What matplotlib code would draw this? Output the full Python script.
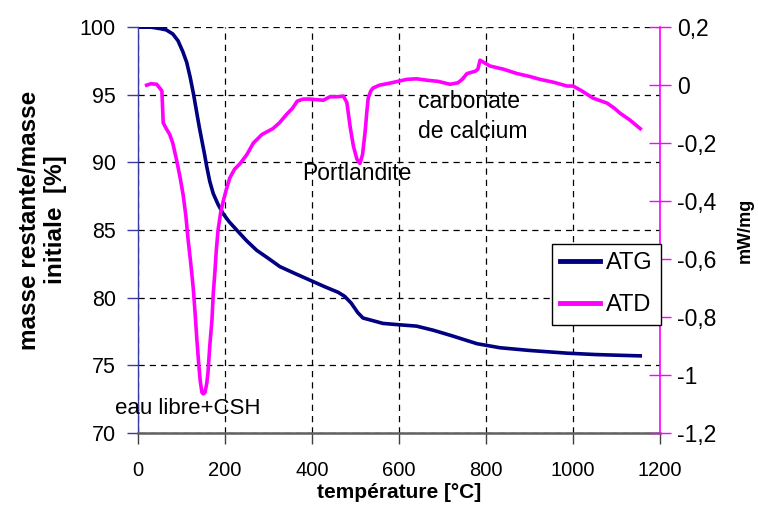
import matplotlib
matplotlib.use("Agg")
import matplotlib.pyplot as plt
from matplotlib.lines import Line2D
from matplotlib.transforms import Bbox, TransformedBbox
from matplotlib.ticker import FuncFormatter

plt.rcParams['font.family'] = ['Liberation Sans', 'DejaVu Sans']

# ATG : masse restante (%)
temp_atg = [0, 30, 50, 65, 80, 92, 103, 112, 120, 128, 135, 141, 147, 153, 158,
            165, 173, 184, 196, 210, 227, 250, 273, 300, 326, 360, 395, 430, 460,
            475, 490, 505, 517, 540, 563, 600, 640, 678, 720, 779, 832, 900, 986,
            1050, 1100, 1154]
atg = [100, 100, 99.9, 99.8, 99.5, 99.0, 98.2, 97.4, 96.3, 95.0, 93.7, 92.6, 91.6,
       90.6, 89.7, 88.6, 87.7, 86.9, 86.2, 85.6, 85.0, 84.2, 83.5, 82.9, 82.3, 81.8,
       81.3, 80.8, 80.4, 80.1, 79.6, 78.9, 78.5, 78.3, 78.1, 78.0, 77.9, 77.6, 77.2,
       76.6, 76.3, 76.1, 75.9, 75.8, 75.75, 75.7]

# ATD : flux de chaleur (mW/mg)
temp_atd = [20, 30, 43, 50, 55, 58, 65, 73, 80, 89, 97, 104, 110, 115, 121, 127,
            131, 135, 139, 143, 147, 150, 154, 158, 161, 165, 170, 173, 177, 180,
            184, 190, 196, 203, 211, 222, 235, 250, 265, 285, 310, 325, 342, 355,
            366, 380, 395, 410, 426, 441, 456, 472, 480, 488, 495, 503, 510, 516,
            522, 526, 529, 535, 540, 555, 579, 600, 618, 640, 664, 690, 717, 735,
            745, 756, 775, 781, 786, 795, 809, 840, 871, 900, 924, 955, 986, 1000,
            1020, 1046, 1078, 1095, 1108, 1130, 1154]
atd = [0.0, 0.005, 0.003, -0.01, -0.02, -0.13, -0.15, -0.17, -0.2, -0.26,
       -0.32, -0.38, -0.45, -0.53, -0.61, -0.70, -0.78, -0.87, -0.95, -1.02,
       -1.06, -1.065, -1.06, -1.03, -0.99, -0.90, -0.81, -0.72, -0.64, -0.57,
       -0.50, -0.44, -0.40, -0.36, -0.32, -0.29, -0.27, -0.24, -0.20, -0.17,
       -0.15, -0.13, -0.10, -0.08, -0.055, -0.048, -0.048, -0.05, -0.052, -0.04,
       -0.04, -0.038, -0.06, -0.148, -0.21, -0.255, -0.27, -0.24, -0.16, -0.09,
       -0.045, -0.02, -0.01, 0.0, 0.007, 0.014, 0.02, 0.022, 0.017, 0.013,
       0.003, 0.008, 0.02, 0.04, 0.048, 0.055, 0.086, 0.078, 0.066, 0.055,
       0.04, 0.03, 0.02, 0.01, -0.003, -0.003, -0.02, -0.045, -0.062, -0.08,
       -0.097, -0.12, -0.15]

x_ticks = [0, 200, 400, 600, 800, 1000, 1200]
y_ticks = [70, 75, 80, 85, 90, 95, 100]
y2_ticks = [-1.2, -1.0, -0.8, -0.6, -0.4, -0.2, 0.0, 0.2]

NAVY = '#000080'
MAGENTA = '#ff00ff'


def virgule(v, pos):
    # décimales à la française
    if abs(v) < 1e-9:
        return "0"
    return f"{v:g}".replace('.', ',')


fig = plt.figure(figsize=(7.58, 5.13), dpi=100)
ax = fig.add_axes([0.182, 0.156, 0.689, 0.791])
ax2 = ax.twinx()

ax.plot(temp_atg, atg, color=NAVY, lw=2.6, solid_joinstyle='round')
ax2.plot(temp_atd, atd, color=MAGENTA, lw=2.6, solid_joinstyle='round')

ax.set_xlim(0, 1200)
ax.set_ylim(70, 100)
ax2.set_ylim(-1.2, 0.2)
ax.set_xticks(x_ticks)
ax.set_yticks(y_ticks)
ax2.set_yticks(y2_ticks)
ax2.yaxis.set_major_formatter(FuncFormatter(virgule))

ax.grid(True, color='black', lw=0.9, ls=(0, (5, 4)))
ax.set_axisbelow(True)

for s in ['top', 'right']:
    ax.spines[s].set_visible(False)
ax.spines['left'].set_color('#3a3aa0')
ax.spines['left'].set_linewidth(1.0)
ax.spines['bottom'].set_color('#606060')
ax.spines['bottom'].set_linewidth(1.8)
for s in ['top', 'left', 'bottom']:
    ax2.spines[s].set_visible(False)
ax2.spines['right'].set_color(MAGENTA)
ax2.spines['right'].set_linewidth(1.2)

ax.tick_params(axis='y', direction='out', length=8, width=1, color='#3a3aa0',
               labelsize=15.5, pad=8)
ax.tick_params(axis='x', direction='out', length=8, width=1, color='#404040',
               labelsize=14.5, pad=12)
ax2.tick_params(axis='y', direction='inout', length=16, width=1, color=MAGENTA,
                labelsize=16.5, pad=4)

ax.set_xlabel('température [°C]', fontsize=15, fontweight='bold', labelpad=2)
ax2.set_ylabel('mW/mg', fontsize=13, fontweight='bold', labelpad=15)

ylab = fig.text(0.056, 0.571, 'masse restante/masse\ninitiale  [%]', rotation=90,
                ha='center', va='center', multialignment='center',
                fontsize=17.5, fontweight='bold', linespacing=1.12)
ylab.set_clip_box(TransformedBbox(Bbox([[0, 0], [1, (513 - 88) / 513]]), fig.transFigure))
ylab.set_clip_on(True)

ax.text(-53, 71.8, 'eau libre+CSH', fontsize=16, va='center', clip_on=False)
ax.text(377, 89.2, 'Portlandite', fontsize=16.5, va='center')
ax.text(644, 93.4, 'carbonate\nde calcium', fontsize=16.5, va='center', linespacing=1.35)

handles = [Line2D([], [], color=NAVY, lw=3.5), Line2D([], [], color=MAGENTA, lw=3.5)]
ax2.legend(handles, ['ATG', 'ATD'], loc='upper right',
           bbox_to_anchor=(661 / 758, (513 - 244) / 513), bbox_transform=fig.transFigure,
           fontsize=17, frameon=True, fancybox=False, edgecolor='black', framealpha=1,
           borderaxespad=0, handlelength=1.7, handletextpad=0.25, borderpad=0.35,
           labelspacing=0.85)

fig.savefig('out.png', dpi=100)
